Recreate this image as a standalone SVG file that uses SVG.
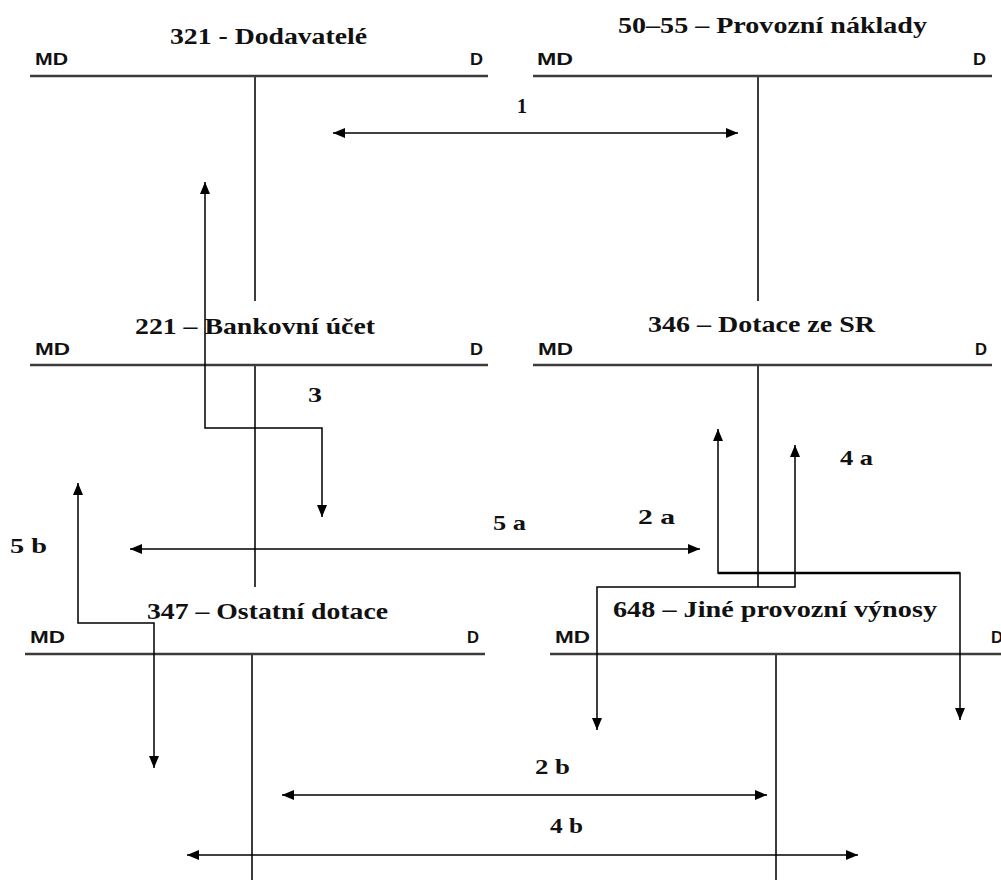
<svg xmlns="http://www.w3.org/2000/svg" width="1001" height="880" viewBox="0 0 1001 880">
<style>
.title{font-family:"Liberation Serif","Times New Roman",serif;font-weight:bold;font-size:23px;fill:#111}
.side{font-family:"Liberation Sans",Arial,sans-serif;font-weight:bold;font-size:16px;fill:#111}
.lbl{font-family:"Liberation Serif","Times New Roman",serif;font-weight:bold;font-size:22px;fill:#111}
.hl{stroke:#3c3c3c;stroke-width:2.5;fill:none}
.vl{stroke:#3c3c3c;stroke-width:2;fill:none}
.cn{stroke:#000;stroke-width:1.5;fill:none}
</style>
<defs>
<marker id="ah" viewBox="0 0 12 10" refX="12" refY="5" markerWidth="12" markerHeight="10" markerUnits="userSpaceOnUse" orient="auto-start-reverse">
<path d="M0,0 L12,5 L0,10 z" fill="#000"/>
</marker>
</defs>
<rect width="1001" height="880" fill="#fff"/>

<g id="acc-321">
<text class="title" x="170" y="44" textLength="197" lengthAdjust="spacingAndGlyphs">321 - Dodavatelé</text>
<text class="side" x="35" y="65" textLength="33" lengthAdjust="spacingAndGlyphs">MD</text>
<text class="side" x="470" y="65" textLength="13" lengthAdjust="spacingAndGlyphs">D</text>
<line class="hl" x1="30" y1="76" x2="488" y2="76"/>
<line class="vl" x1="255" y1="76" x2="255" y2="301"/>
</g>

<g id="acc-50-55">
<text class="title" x="618" y="33" textLength="309" lengthAdjust="spacingAndGlyphs">50–55 – Provozní náklady</text>
<text class="side" x="537" y="65" textLength="36" lengthAdjust="spacingAndGlyphs">MD</text>
<text class="side" x="973" y="65" textLength="13" lengthAdjust="spacingAndGlyphs">D</text>
<line class="hl" x1="533" y1="76" x2="992" y2="76"/>
<line class="vl" x1="758" y1="76" x2="758" y2="301"/>
</g>

<g id="acc-221">
<text class="title" x="135" y="334" textLength="240" lengthAdjust="spacingAndGlyphs">221 – Bankovní účet</text>
<text class="side" x="35" y="355" textLength="35" lengthAdjust="spacingAndGlyphs">MD</text>
<text class="side" x="470" y="355" textLength="13" lengthAdjust="spacingAndGlyphs">D</text>
<line class="hl" x1="30" y1="365" x2="488" y2="365"/>
<line class="vl" x1="255" y1="365" x2="255" y2="587"/>
</g>

<g id="acc-346">
<text class="title" x="648" y="332" textLength="227" lengthAdjust="spacingAndGlyphs">346 – Dotace ze SR</text>
<text class="side" x="538" y="355" textLength="35" lengthAdjust="spacingAndGlyphs">MD</text>
<text class="side" x="975" y="355" textLength="12" lengthAdjust="spacingAndGlyphs">D</text>
<line class="hl" x1="533" y1="365" x2="992" y2="365"/>
<line class="vl" x1="758" y1="365" x2="758" y2="587"/>
</g>

<g id="acc-347">
<text class="title" x="147" y="619" textLength="241" lengthAdjust="spacingAndGlyphs">347 – Ostatní dotace</text>
<text class="side" x="30" y="643" textLength="35" lengthAdjust="spacingAndGlyphs">MD</text>
<text class="side" x="467" y="643" textLength="12" lengthAdjust="spacingAndGlyphs">D</text>
<line class="hl" x1="25" y1="654" x2="485" y2="654"/>
<line class="vl" x1="252" y1="654" x2="252" y2="880"/>
</g>

<g id="acc-648">
<text class="title" x="613" y="617" textLength="324" lengthAdjust="spacingAndGlyphs">648 – Jiné provozní výnosy</text>
<text class="side" x="555" y="643" textLength="35" lengthAdjust="spacingAndGlyphs">MD</text>
<text class="side" x="991" y="643" textLength="12" lengthAdjust="spacingAndGlyphs">D</text>
<line class="hl" x1="550" y1="654" x2="1001" y2="654"/>
<line class="vl" x1="776" y1="654" x2="776" y2="880"/>
</g>

<g id="connectors">
<line class="cn" x1="333" y1="133" x2="738" y2="133" marker-start="url(#ah)" marker-end="url(#ah)"/>
<polyline class="cn" points="205,182 205,428 322,428 322,517" marker-start="url(#ah)" marker-end="url(#ah)"/>
<line class="cn" x1="130" y1="549" x2="700" y2="549" marker-start="url(#ah)" marker-end="url(#ah)"/>
<polyline class="cn" points="78,483 78,623 154,623 154,768" marker-start="url(#ah)" marker-end="url(#ah)"/>
<polyline class="cn" points="718,429 718,573 960,573 960,720" marker-start="url(#ah)" marker-end="url(#ah)"/>
<line x1="718" y1="573" x2="960" y2="573" stroke="#000" stroke-width="2.5"/>
<polyline class="cn" points="795,445 795,587 597,587 597,730" marker-start="url(#ah)" marker-end="url(#ah)"/>
<line class="cn" x1="282" y1="795" x2="767" y2="795" marker-start="url(#ah)" marker-end="url(#ah)"/>
<line class="cn" x1="187" y1="855" x2="858" y2="855" marker-start="url(#ah)" marker-end="url(#ah)"/>
</g>

<g id="labels">
<text class="lbl" x="517" y="113" textLength="10" lengthAdjust="spacingAndGlyphs">1</text>
<text class="lbl" x="308" y="402" textLength="14" lengthAdjust="spacingAndGlyphs">3</text>
<text class="lbl" x="493" y="530" textLength="33" lengthAdjust="spacingAndGlyphs">5 a</text>
<text class="lbl" x="638" y="524" textLength="37" lengthAdjust="spacingAndGlyphs">2 a</text>
<text class="lbl" x="840" y="465" textLength="33" lengthAdjust="spacingAndGlyphs">4 a</text>
<text class="lbl" x="10" y="553" textLength="37" lengthAdjust="spacingAndGlyphs">5 b</text>
<text class="lbl" x="535" y="774" textLength="35" lengthAdjust="spacingAndGlyphs">2 b</text>
<text class="lbl" x="550" y="833" textLength="33" lengthAdjust="spacingAndGlyphs">4 b</text>
</g>
</svg>
